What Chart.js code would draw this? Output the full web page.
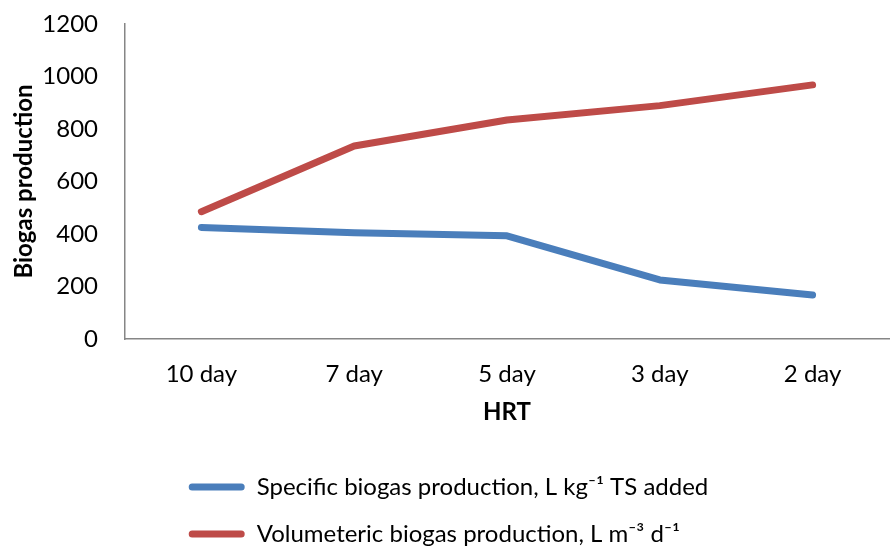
<!DOCTYPE html>
<html>
<head>
<meta charset="utf-8">
<script src="https://cdn.jsdelivr.net/npm/chart.js@4.4.0/dist/chart.umd.min.js"></script>
<style>
html,body{margin:0;padding:0;background:#fff;}
#wrap{width:890px;height:548px;position:relative;}
</style>
</head>
<body>
<div id="wrap"><canvas id="c" width="890" height="548"></canvas></div>
<script>
const categories = ['10 day', '7 day', '5 day', '3 day', '2 day'];
const specificBiogas = [425, 405, 393, 225, 168];
const volumetricBiogas = [485, 735, 834, 889, 968];
const yTicks = [0, 200, 400, 600, 800, 1000, 1200];
const seriesNames = ['Specific biogas production, L kg\u207B\u00B9 TS added', 'Volumeteric biogas production, L m\u207B\u00B3 d\u207B\u00B9'];

const FONT = 'Lato, "Open Sans", sans-serif';
const FS = 24;
const blue = '#4A7EBB', red = '#BE4B48';
const axisColor = '#868686';

// keep legend rows left-aligned with each other (same start x)
const legendRowAlign = {
  id: 'legendRowAlign',
  afterUpdate(chart) {
    const lg = chart.legend;
    if (lg && lg.lineWidths && lg.lineWidths.length) {
      const m = Math.max(...lg.lineWidths);
      lg.lineWidths = lg.lineWidths.map(() => m);
    }
  }
};

new Chart(document.getElementById('c'), {
  type: 'line',
  data: {
    labels: categories,
    datasets: [
      {label: seriesNames[0], data: specificBiogas, borderColor: blue, backgroundColor: blue, borderWidth: 7, pointRadius: 0, tension: 0, borderCapStyle: 'round', borderJoinStyle: 'round'},
      {label: seriesNames[1], data: volumetricBiogas, borderColor: red, backgroundColor: red, borderWidth: 7, pointRadius: 0, tension: 0, borderCapStyle: 'round', borderJoinStyle: 'round'}
    ]
  },
  plugins: [legendRowAlign],
  options: {
    responsive: false,
    animation: false,
    devicePixelRatio: 1,
    layout: {padding: {left: 8, right: 1, top: 24, bottom: -8}},
    plugins: {
      tooltip: {enabled: false},
      legend: {
        position: 'bottom',
        align: 'center',
        labels: {
          font: {family: FONT, size: FS},
          color: '#000',
          boxWidth: 56,
          boxHeight: 7,
          padding: 23,
          useBorderRadius: true,
          borderRadius: 3.5,
          generateLabels: (chart) => chart.data.datasets.map((ds, i) => ({
            text: ds.label, fillStyle: ds.borderColor, strokeStyle: ds.borderColor, lineWidth: 0, datasetIndex: i, fontColor: '#000', borderRadius: 3.5
          }))
        }
      }
    },
    scales: {
      x: {
        offset: true,
        grid: {display: false, drawTicks: false},
        border: {display: true, color: axisColor, width: 1.5},
        ticks: {font: {family: FONT, size: FS}, color: '#000', padding: 21, maxRotation: 0},
        title: {display: true, text: 'HRT', font: {family: FONT, size: FS, weight: 'bold'}, color: '#000', padding: {top: 9, bottom: 25}},
        afterFit: (axis) => { axis.height = 113; axis.paddingLeft = 0; axis.paddingRight = 0; }
      },
      y: {
        min: 0, max: 1200,
        afterBuildTicks: (axis) => { axis.ticks = yTicks.map(v => ({value: v})); },
        grid: {display: false, drawTicks: false},
        border: {display: true, color: axisColor, width: 1.5},
        ticks: {font: {family: FONT, size: FS}, color: '#000', padding: 27, callback: (v) => String(v)},
        title: {display: true, text: 'Biogas production', font: {family: FONT, size: FS, weight: 'bold'}, color: '#000', padding: {top: 2, bottom: 2}},
        afterFit: (axis) => { axis.width = 117; axis.paddingTop = 0; axis.paddingBottom = 0; }
      }
    }
  }
});
</script>
</body>
</html>
